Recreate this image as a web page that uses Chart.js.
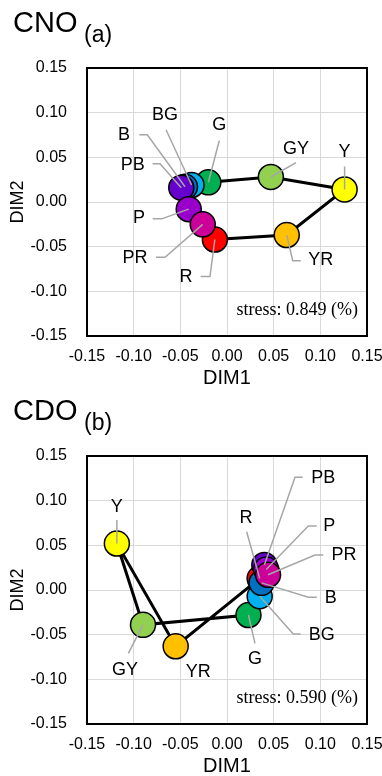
<!DOCTYPE html>
<html>
<head>
<meta charset="utf-8">
<script src="https://cdn.jsdelivr.net/npm/chart.js@4"></script>
<style>
  body { margin: 0; background: #fff; }
  .panel { position: absolute; left: 0; width: 382px; height: 388px; }
</style>
</head>
<body>
<div class="panel" style="top:0"><canvas id="cno" width="382" height="388"></canvas></div>
<div class="panel" style="top:388px"><canvas id="cdo" width="382" height="388"></canvas></div>
<script>
// colour names, in hue-circle order
const colorNames = ['R', 'YR', 'Y', 'GY', 'G', 'BG', 'B', 'PB', 'P', 'PR'];
const pointColors = ['#FF0000', '#FFC000', '#FFFF00', '#92D050', '#00B050',
                     '#00B0F0', '#0070C0', '#6600CC', '#9900CC', '#CC0099'];

// (a) CNO coordinates
const cnoDim1 = [-0.013, 0.064, 0.126, 0.047, -0.020, -0.038, -0.045, -0.049, -0.041, -0.026];
const cnoDim2 = [-0.042, -0.037, 0.014, 0.028, 0.022, 0.019, 0.017, 0.016, -0.008, -0.025];

// (b) CDO coordinates
const cdoDim1 = [0.035, -0.055, -0.118, -0.090, 0.023, 0.035, 0.037, 0.040, 0.042, 0.044];
const cdoDim2 = [0.013, -0.063, 0.052, -0.039, -0.028, -0.007, 0.008, 0.028, 0.023, 0.017];

const axisMin = -0.15;
const axisMax = 0.15;
const axisStep = 0.05;

const cnoStress = '0.849';
const cdoStress = '0.590';

// label placement: text centre and leader line bends, in px relative to the point
const cnoLabels = {
  R:  { t: [-28.9, 37.8], l: [[-14.2, 37.1], [-4.9, 37.1]] },
  YR: { t: [34, 24.9], l: [[14, 25.6], [6, 25.6]] },
  Y:  { t: [0, -37.3], l: [[0, -23]] },
  GY: { t: [25.1, -28.3], l: [[25.1, -14.3]] },
  G:  { t: [11, -56.9], l: [[11, -41.9]] },
  BG: { t: [-26.5, -69.6], l: [[-25.5, -55.3]] },
  B:  { t: [-61, -51.4], l: [[-45.7, -52.1], [-37.7, -52.1]] },
  PB: { t: [-48.6, -22.3], l: [[-28.6, -24], [-21.3, -24]] },
  P:  { t: [-49.7, 8.7], l: [[-36, 9.7], [-27, 9.7]] },
  PR: { t: [-67.7, 33.5], l: [[-46.7, 32.9], [-37.7, 32.9]] }
};
const cdoLabels = {
  R:  { t: [-13.7, -60.1], l: [[-13, -46.7]] },
  YR: { t: [22.6, 25.4], l: [] },
  Y:  { t: [0, -36.9], l: [[0, -23.6]] },
  GY: { t: [-18, 45.2], l: [[-14.7, 28.5]] },
  G:  { t: [6.5, 44.3], l: [[6.5, 28.3]] },
  BG: { t: [62, 38.7], l: [[41, 37.7], [33.6, 37.7]] },
  B:  { t: [69.2, 15.4], l: [[55.2, 14.4], [46.8, 14.4]] },
  PB: { t: [59, -86.7], l: [[38.4, -87.7], [30.7, -87.7]] },
  P:  { t: [63.1, -43.5], l: [[50.5, -43.5], [42.1, -43.5]] },
  PR: { t: [75.9, -19.8], l: [[55.2, -19.8], [46.9, -19.8]] }
};

// line goes round the hue circle and closes back on R
const loopOrder = [0, 1, 2, 3, 4, 5, 6, 7, 8, 9, 0];

const SANS = '"Liberation Sans", Arial, sans-serif';
const SERIF = '"Liberation Serif", "Times New Roman", serif';

const extras = {
  id: 'extras',
  beforeDatasetsDraw(chart) {
    const a = chart.chartArea, ctx = chart.ctx;
    ctx.save();
    ctx.strokeStyle = '#000';
    ctx.lineWidth = 2;
    ctx.strokeRect(a.left, a.top, a.right - a.left, a.bottom - a.top);
    ctx.restore();
  },
  afterDatasetsDraw(chart, args, opts) {
    const ctx = chart.ctx;
    const pts = chart.getDatasetMeta(0).data;
    ctx.save();
    // leader lines
    ctx.strokeStyle = '#A6A6A6';
    ctx.lineWidth = 1.5;
    colorNames.forEach((name, i) => {
      const lab = opts.labels[name];
      if (!lab.l.length) return;
      const p = pts[i];
      ctx.beginPath();
      ctx.moveTo(p.x + lab.l[0][0], p.y + lab.l[0][1]);
      lab.l.slice(1).forEach(q => ctx.lineTo(p.x + q[0], p.y + q[1]));
      ctx.lineTo(p.x, p.y);
      ctx.stroke();
    });
    // colour labels
    ctx.fillStyle = '#000';
    ctx.font = '18px ' + SANS;
    ctx.textAlign = 'center';
    ctx.textBaseline = 'middle';
    colorNames.forEach((name, i) => {
      const lab = opts.labels[name];
      const p = pts[i];
      ctx.fillText(name, p.x + lab.t[0], p.y + lab.t[1]);
    });
    // stress note
    ctx.font = '18px ' + SERIF;
    ctx.textAlign = 'right';
    ctx.textBaseline = 'alphabetic';
    ctx.fillText('stress: ' + opts.stress + ' (%)', chart.chartArea.right - 9, chart.chartArea.bottom - 21);
    // panel title
    ctx.textAlign = 'left';
    ctx.textBaseline = 'middle';
    ctx.font = '29px ' + SANS;
    ctx.fillText(opts.title, 13, opts.titleY);
    ctx.font = '23px ' + SANS;
    ctx.fillText(opts.sub, 84, opts.subY);
    ctx.restore();
  }
};

function tickLabel(v) {
  if (Math.abs(v) < 1e-9) return '0.00';
  return v.toFixed(2);
}

function makeChart(id, xs, ys, labels, stress, title, sub, titleY, subY) {
  const pts = xs.map((x, i) => ({ x: x, y: ys[i] }));
  const loop = loopOrder.map(i => pts[i]);
  new Chart(document.getElementById(id), {
    type: 'scatter',
    data: {
      datasets: [
        {
          data: pts,
          pointRadius: 12.5,
          pointHoverRadius: 12.5,
          backgroundColor: pointColors,
          pointBackgroundColor: pointColors,
          borderColor: '#000',
          pointBorderColor: '#000',
          borderWidth: 1.5
        },
        {
          data: loop,
          showLine: true,
          borderColor: '#000',
          borderWidth: 3,
          pointRadius: 0,
          fill: false
        }
      ]
    },
    options: {
      responsive: false,
      animation: false,
      events: [],
      layout: { padding: { top: 68, right: 15, left: 0, bottom: 0 } },
      plugins: {
        legend: { display: false },
        tooltip: { enabled: false },
        extras: { labels: labels, stress: stress, title: title, sub: sub, titleY: titleY, subY: subY }
      },
      scales: {
        x: {
          type: 'linear',
          min: axisMin, max: axisMax,
          afterFit: s => { s.height = 52; s.paddingLeft = 0; s.paddingRight = 0; },
          grid: { color: '#D9D9D9', lineWidth: 1, drawTicks: false },
          border: { display: false },
          ticks: {
            stepSize: axisStep, padding: 11, color: '#000',
            font: { family: SANS, size: 16 },
            maxRotation: 0, autoSkip: false,
            callback: tickLabel
          },
          title: {
            display: true, text: 'DIM1', color: '#000',
            font: { family: SANS, size: 20, lineHeight: 1 },
            padding: { top: 0, bottom: 0 }
          }
        },
        y: {
          type: 'linear',
          min: axisMin, max: axisMax,
          afterFit: s => { s.width = 87; s.paddingTop = 0; s.paddingBottom = 0; },
          grid: { color: '#D9D9D9', lineWidth: 1, drawTicks: false },
          border: { display: false },
          ticks: {
            stepSize: axisStep, padding: 20, color: '#000',
            font: { family: SANS, size: 16 },
            autoSkip: false,
            callback: tickLabel
          },
          title: {
            display: true, text: 'DIM2', color: '#000',
            font: { family: SANS, size: 18, lineHeight: 1 },
            padding: { top: 9, bottom: 0 }
          }
        }
      }
    },
    plugins: [extras]
  });
}

makeChart('cno', cnoDim1, cnoDim2, cnoLabels, cnoStress, 'CNO', '(a)', 24, 36);
makeChart('cdo', cdoDim1, cdoDim2, cdoLabels, cdoStress, 'CDO', '(b)', 24, 36);
</script>
</body>
</html>
